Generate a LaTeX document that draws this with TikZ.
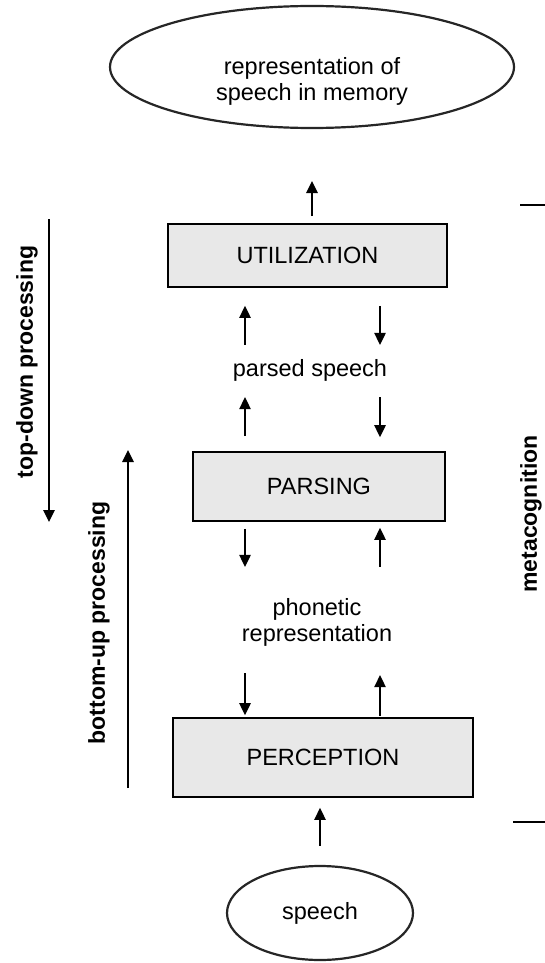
\documentclass[tikz,border=0pt]{standalone}
\usepackage{fontspec}
\setmainfont{Liberation Sans}
\usetikzlibrary{shapes.geometric,arrows.meta}

\begin{document}
\begin{tikzpicture}[x=1pt,y=-1pt,
  font=\fontsize{23.5}{26}\selectfont,
  stage/.style={draw,line width=1.8pt,fill=black!9,inner sep=0pt},
  bubble/.style={ellipse,draw=black!85,line width=2.2pt,fill=white,inner sep=0pt},
  txt/.style={align=center,inner sep=0pt},
  side/.style={font=\fontsize{23}{26}\selectfont\bfseries,rotate=90,inner sep=0pt},
  arr/.style={line width=1.4pt,-{Triangle[length=12pt,width=11.5pt]}},
  rule/.style={line width=1.4pt}]
\useasboundingbox (0,0) rectangle (545,963);
\coordinate (L) at (245,0);
\coordinate (R) at (380,0);
\node[bubble,minimum width=404pt,minimum height=122pt] (memory) at (312,67) {};
\node[txt] (memorytext) at (312,81.5) {representation of\\speech in memory};
\node[stage,minimum width=279pt,minimum height=63pt] (util) at (307.5,255.5) {UTILIZATION};
\node[txt] (parsed) at (310,370) {parsed speech};
\node[stage,minimum width=252pt,minimum height=69pt] (parsing) at (319,486.5) {PARSING};
\node[txt] (phonetic) at (317,622) {phonetic\\representation};
\node[stage,minimum width=300pt,minimum height=79pt] (perception) at (323,757.5) {PERCEPTION};
\node[bubble,minimum width=186pt,minimum height=94pt] (speech) at (320,913) {speech};

\draw[arr,shorten <=7pt,shorten >=52pt] (memory.south |- util.north) -- (memory.south);
\draw[arr,shorten <=14pt,shorten >=18pt] (parsed.north -| L) -- (util.south -| L);
\draw[arr,shorten <=18pt,shorten >=14pt] (util.south -| R) -- (parsed.north -| R);
\draw[arr,shorten <=15pt,shorten >=16pt] (parsing.north -| L) -- (parsed.south -| L);
\draw[arr,shorten <=16pt,shorten >=14pt] (parsed.south -| R) -- (parsing.north -| R);
\draw[arr,shorten <=7pt,shorten >=31pt] (parsing.south -| L) -- (phonetic.north -| L);
\draw[arr,shorten <=31pt,shorten >=6pt] (phonetic.north -| R) -- (parsing.south -| R);
\draw[arr,shorten <=27pt,shorten >=2pt] (phonetic.south -| L) -- (perception.north -| L);
\draw[arr,shorten <=1pt,shorten >=29pt] (perception.north -| R) -- (phonetic.south -| R);
\draw[arr,shorten <=19pt,shorten >=10pt] (speech.north) -- (perception.south -| speech.north);

\node[side] (topdown) at (27,362) {top-down processing};
\coordinate (tdstart) at (49,219);
\coordinate (tdend) at (49,522);
\draw[arr] (tdstart) -- (tdend);
\node[side] (bottomup) at (99,623) {bottom-up processing};
\coordinate (bustart) at (128,788);
\coordinate (buend) at (128,450);
\draw[arr] (bustart) -- (buend);

\node[side] (meta) at (531,514) {metacognition};
\coordinate (metatop) at (520,205);
\coordinate (metabot) at (513,822);
\draw[rule] (metatop) -- (metatop -| 545,0);
\draw[rule] (metabot) -- (metabot -| 545,0);
\end{tikzpicture}
\end{document}
